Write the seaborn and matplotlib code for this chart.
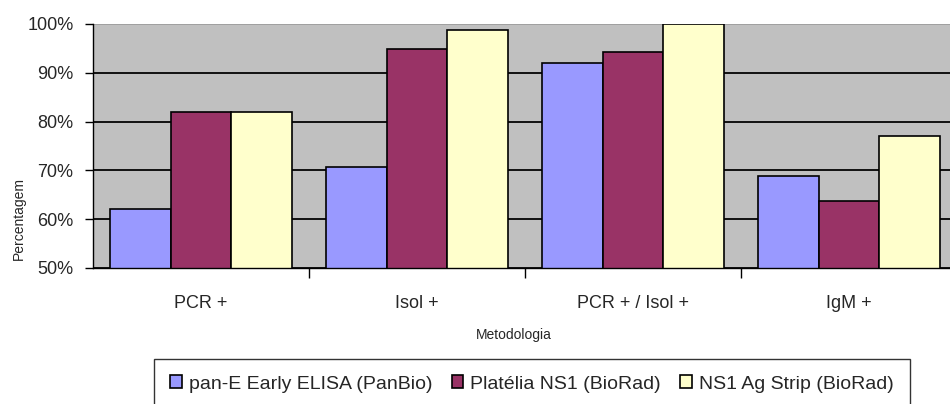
import matplotlib
matplotlib.use("Agg")
import matplotlib.pyplot as plt
from matplotlib import font_manager
from matplotlib.ticker import FixedLocator, PercentFormatter
import seaborn as sns
import pandas as pd

categories = ["PCR +", "Isol +", "PCR + / Isol +", "IgM +"]
series_names = ["pan-E Early ELISA (PanBio)", "Platélia NS1 (BioRad)", "NS1 Ag Strip (BioRad)"]
pan_e = [62.1, 70.6, 92.1, 68.8]
platelia = [82.0, 94.9, 94.2, 63.8]
ns1_strip = [82.0, 98.8, 100.0, 77.0]
colors = ["#9999FF", "#993366", "#FFFFCC"]
y_ticks = [50, 60, 70, 80, 90, 100]

rows = []
for name, vals in zip(series_names, [pan_e, platelia, ns1_strip]):
    for c, v in zip(categories, vals):
        rows.append({"Metodologia": c, "Percentagem": v, "Teste": name})
df = pd.DataFrame(rows)

sns.set_style("white")
names = {f.name for f in font_manager.fontManager.ttflist}
fam = [f for f in ["Liberation Sans Narrow", "Liberation Sans", "DejaVu Sans"] if f in names]
plt.rcParams["font.family"] = fam

fig = plt.figure(figsize=(9.5, 4.04), dpi=100)
ax = fig.add_axes([93 / 950, 1 - 268 / 404, 864 / 950, 244 / 404])
ax.set_facecolor("#C0C0C0")

sns.barplot(data=df, x="Metodologia", y="Percentagem", hue="Teste",
            palette=colors, order=categories, hue_order=series_names,
            width=0.84, edgecolor="black", linewidth=1.2, saturation=1,
            ax=ax, errorbar=None)

ax.set_ylim(50, 100)
ax.set_xlim(-0.5, 3.5)
ax.set_yticks(y_ticks)
ax.yaxis.set_major_formatter(PercentFormatter(decimals=0))
ax.set_axisbelow(True)
ax.yaxis.grid(True, color="#111111", linewidth=1.4)
ax.xaxis.grid(False)
gl = ax.yaxis.get_gridlines()
gl[-1].set_color("#A0A0A0")

for s in ["top", "right"]:
    ax.spines[s].set_visible(False)
ax.spines["left"].set_color("black")
ax.spines["bottom"].set_color("black")
ax.spines["left"].set_linewidth(1.0)
ax.spines["bottom"].set_linewidth(1.0)
ax.axhline(100, color="#A0A0A0", linewidth=1.2, zorder=0.5)

ax.tick_params(axis="y", which="major", left=True, length=6, width=1, color="black",
               labelsize=13, pad=8)
ax.tick_params(axis="x", which="major", bottom=False, labelsize=13, pad=16)
ax.xaxis.set_minor_locator(FixedLocator([0.5, 1.5, 2.5, 3.5]))
ax.tick_params(axis="x", which="minor", bottom=True, length=7, width=1, color="black")

ax.set_xlabel("")
ax.set_ylabel("")
fig.text(514 / 950, 1 - 335 / 404, "Metodologia", ha="center", va="center", fontsize=10)
fig.text(19 / 950, 1 - 218 / 404, "Percentagem", ha="center", va="center",
         rotation=90, fontsize=10)

handles, labels = ax.get_legend_handles_labels()
ax.get_legend().remove()
leg = fig.legend(handles, labels, ncol=3, loc="center", bbox_to_anchor=(532 / 950, 1 - 384 / 404),
                 frameon=True, fancybox=False, edgecolor="black", fontsize=14,
                 handlelength=0.6, handleheight=0.6, handletextpad=0.35, columnspacing=1.0,
                 borderpad=0.85)
leg.get_frame().set_linewidth(1.0)

fig.savefig("out.png", dpi=100)
